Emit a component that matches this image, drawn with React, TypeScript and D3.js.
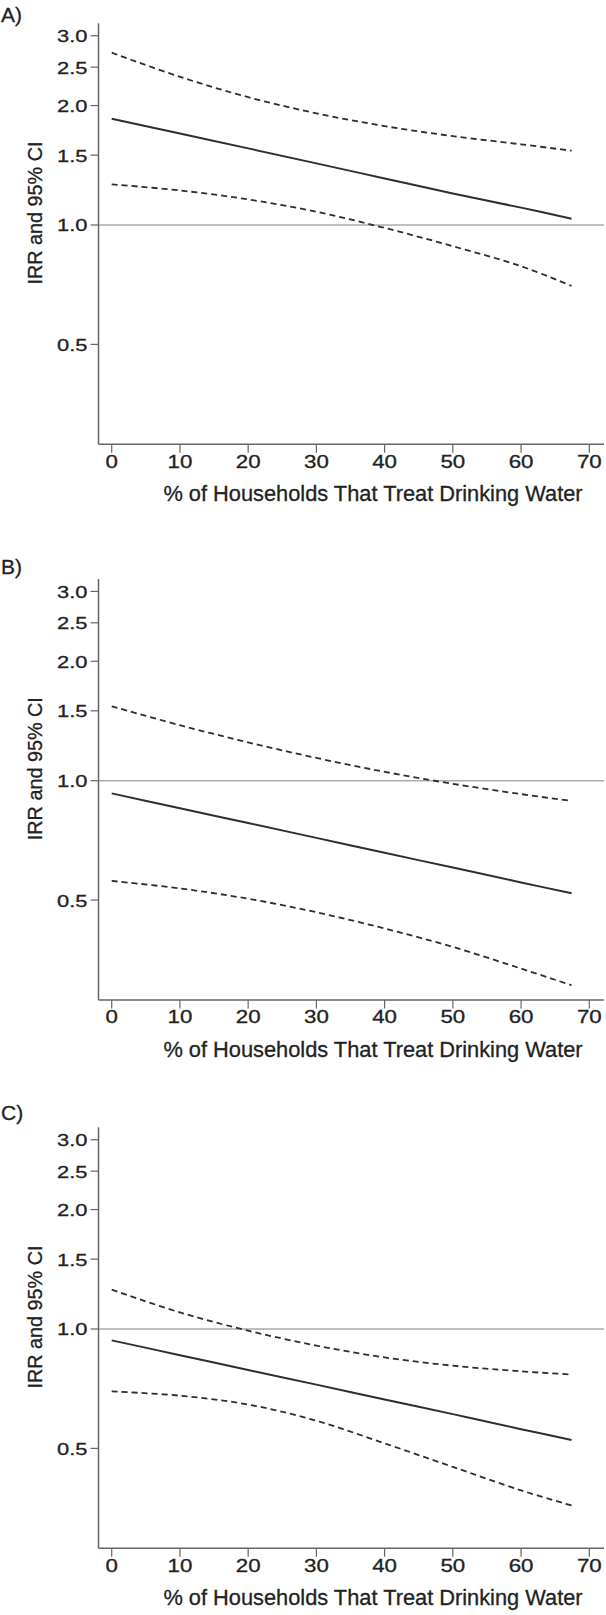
import React from "react";
import * as d3 from "d3";

// ---------- data ----------
const xValues = [0, 10, 20, 30, 40, 50, 60, 67.4];

const panelLabels = ["A)", "B)", "C)"];

const irrA = [1.853, 1.70, 1.56, 1.43, 1.31, 1.20, 1.106, 1.037];
const upperA = [2.718, 2.363, 2.10, 1.912, 1.775, 1.675, 1.597, 1.539];
const lowerA = [1.266, 1.222, 1.16, 1.08, 0.983, 0.884, 0.787, 0.702];

const irrB = [0.929, 0.852, 0.782, 0.7175, 0.658, 0.604, 0.554, 0.520];
const upperB = [1.54, 1.38, 1.249, 1.141, 1.053, 0.982, 0.925, 0.889];
const lowerB = [0.559, 0.535, 0.504, 0.466, 0.424, 0.381, 0.336, 0.305];

const irrC = [0.936, 0.859, 0.788, 0.724, 0.664, 0.610, 0.559, 0.525];
const upperC = [1.256, 1.101, 0.99, 0.908, 0.848, 0.808, 0.782, 0.768];
const lowerC = [0.696, 0.679, 0.645, 0.587, 0.515, 0.449, 0.392, 0.359];

const yTicks = [0.5, 1.0, 1.5, 2.0, 2.5, 3.0];
const xTicks = [0, 10, 20, 30, 40, 50, 60, 70];
const refValue = 1.0;

const xTitle = "% of Households That Treat Drinking Water";
const yTitle = "IRR and 95% CI";

// ---------- layout ----------
const W = 606;
const H = 1615;
const panelOffsets = [0, 555.7, 1104];
const labelBaselines = [22, 574, 1120];
const axisX = 98.5;
const axisTop = 23.3;
const axisBottom = 444.3;
const axisRight = 604;
const FONT = "'Liberation Sans', Arial, Helvetica, sans-serif";
const LINE = "#2e2e2e";
const AXIS = "#666";
const TEXT = "#222";
const TSTROKE = 0.3;

const xScale = d3.scaleLinear().domain([0, 70]).range([111.7, 589.3]);
const yScale = d3.scaleLog().domain([0.28, 3.224]).range([axisBottom, axisTop]);

const lineGen = d3
  .line<[number, number]>()
  .x((d) => xScale(d[0]))
  .y((d) => yScale(d[1]))
  .curve(d3.curveCatmullRom.alpha(0.5));

const fmt = d3.format(".1f");

type PanelProps = { irr: number[]; lower: number[]; upper: number[]; idx: number };

function Panel({ irr, lower, upper, idx }: PanelProps) {
  const off = panelOffsets[idx];
  const pts = (arr: number[]) => xValues.map((x, i) => [x, arr[i]] as [number, number]);
  const textProps = { fontFamily: FONT, fill: TEXT, stroke: TEXT, strokeWidth: TSTROKE };
  return (
    <g>
      <text x={1} y={labelBaselines[idx]} fontSize={21} {...textProps}>
        {panelLabels[idx]}
      </text>
      <g transform={`translate(0,${off})`}>
        <line
          x1={axisX}
          x2={axisRight}
          y1={yScale(refValue)}
          y2={yScale(refValue)}
          stroke="#ababab"
          strokeWidth={1.5}
        />
        <line x1={axisX} x2={axisX} y1={axisTop} y2={axisBottom} stroke={AXIS} strokeWidth={1.5} />
        <line x1={axisX} x2={axisRight} y1={axisBottom} y2={axisBottom} stroke={AXIS} strokeWidth={1.5} />
        {yTicks.map((t) => (
          <g key={"y" + t}>
            <line x1={axisX - 8} x2={axisX} y1={yScale(t)} y2={yScale(t)} stroke={AXIS} strokeWidth={1.2} />
            <text
              transform={`translate(${87.5},${yScale(t) + 6.4}) scale(1.26,1)`}
              textAnchor="end"
              fontSize={17.4}
              {...textProps}
            >
              {fmt(t)}
            </text>
          </g>
        ))}
        {xTicks.map((t) => (
          <g key={"x" + t}>
            <line x1={xScale(t)} x2={xScale(t)} y1={axisBottom} y2={axisBottom + 8.5} stroke={AXIS} strokeWidth={1.2} />
            <text
              transform={`translate(${xScale(t)},${axisBottom + 23.4}) scale(1.24,1)`}
              textAnchor="middle"
              fontSize={18}
              {...textProps}
            >
              {t}
            </text>
          </g>
        ))}
        <text x={373} y={axisBottom + 56.7} textAnchor="middle" fontSize={21.8} {...textProps}>
          {xTitle}
        </text>
        <text
          transform={`translate(41.5,213) rotate(-90)`}
          textAnchor="middle"
          fontSize={19.8}
          {...textProps}
        >
          {yTitle}
        </text>
        <path d={lineGen(pts(upper)) || ""} fill="none" stroke={LINE} strokeWidth={1.8} strokeDasharray="6,4" />
        <path d={lineGen(pts(lower)) || ""} fill="none" stroke={LINE} strokeWidth={1.8} strokeDasharray="6,4" />
        <path d={lineGen(pts(irr)) || ""} fill="none" stroke={LINE} strokeWidth={2} />
      </g>
    </g>
  );
}

export default function App() {
  return (
    <svg
      width={W}
      height={H}
      viewBox={`0 0 ${W} ${H}`}
      style={{ position: "absolute", left: 0, top: 0, background: "#fff" }}
    >
      <rect x={0} y={0} width={W} height={H} fill="#fff" />
      <Panel irr={irrA} lower={lowerA} upper={upperA} idx={0} />
      <Panel irr={irrB} lower={lowerB} upper={upperB} idx={1} />
      <Panel irr={irrC} lower={lowerC} upper={upperC} idx={2} />
    </svg>
  );
}
